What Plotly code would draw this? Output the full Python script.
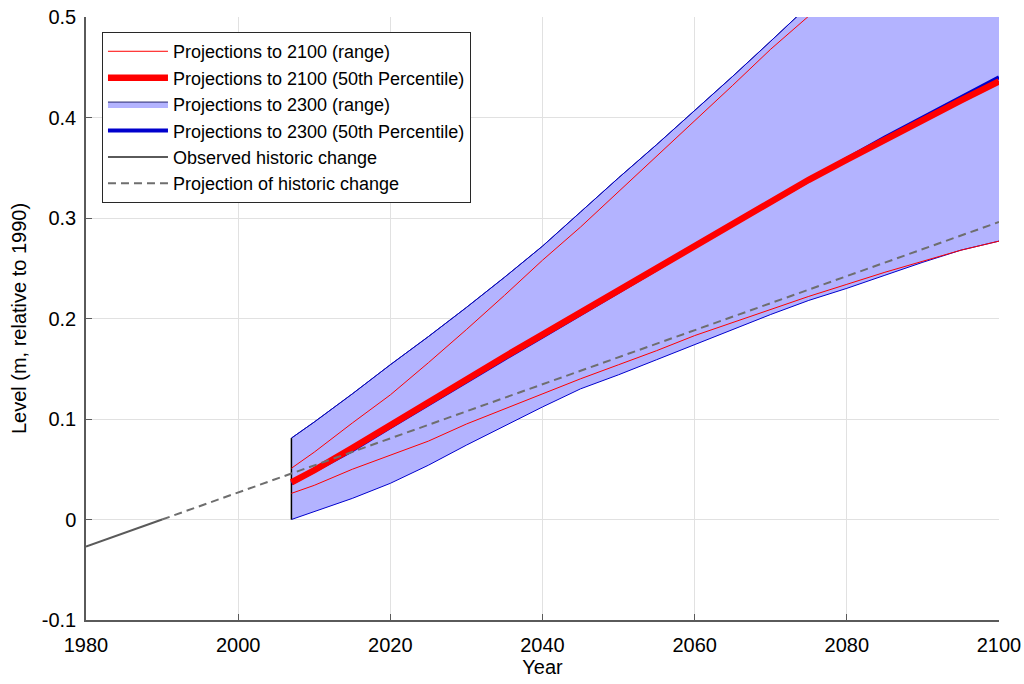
import plotly.graph_objects as go

# ---------------- data ----------------
proj_years = [2007, 2010, 2015, 2020, 2025, 2030, 2035, 2040, 2045, 2050,
              2055, 2060, 2065, 2070, 2075, 2080, 2085, 2090, 2095, 2100]

p2100_low = [0.026, 0.034, 0.050, 0.064, 0.078, 0.095, 0.110, 0.125, 0.140, 0.154,
             0.168, 0.183, 0.196, 0.209, 0.222, 0.234, 0.246, 0.257, 0.268, 0.277]
p2100_high = [0.051, 0.067, 0.096, 0.124, 0.156, 0.189, 0.223, 0.258, 0.291, 0.326,
              0.362, 0.397, 0.432, 0.468, 0.501, 0.537, 0.572, 0.608, 0.644, 0.680]
p2100_med = [0.037, 0.049, 0.071, 0.094, 0.117, 0.139, 0.162, 0.184, 0.206, 0.228,
             0.251, 0.273, 0.295, 0.316, 0.338, 0.358, 0.378, 0.398, 0.417, 0.436]

p2300_low = [0.000, 0.008, 0.021, 0.036, 0.054, 0.074, 0.093, 0.112, 0.130, 0.144,
             0.159, 0.174, 0.189, 0.204, 0.218, 0.230, 0.243, 0.256, 0.268, 0.277]
p2300_high = [0.081, 0.097, 0.125, 0.154, 0.182, 0.211, 0.241, 0.272, 0.306, 0.340,
              0.373, 0.407, 0.441, 0.476, 0.511, 0.546, 0.582, 0.618, 0.655, 0.692]
p2300_med = [0.036, 0.048, 0.069, 0.092, 0.115, 0.137, 0.160, 0.182, 0.204, 0.226,
             0.249, 0.272, 0.294, 0.316, 0.338, 0.359, 0.380, 0.400, 0.420, 0.440]

obs_years = [1980, 1990]
obs_level = [-0.027, 0.0]

hist_proj_years = [1990, 2100]
hist_proj_level = [0.0, 0.296]

x_ticks = [1980, 2000, 2020, 2040, 2060, 2080, 2100]
y_ticks = [-0.1, 0, 0.1, 0.2, 0.3, 0.4, 0.5]
y_ticktext = ["-0.1", "0", "0.1", "0.2", "0.3", "0.4", "0.5"]

names = ["Projections to 2100 (range)",
         "Projections to 2100 (50th Percentile)",
         "Projections to 2300 (range)",
         "Projections to 2300 (50th Percentile)",
         "Observed historic change",
         "Projection of historic change"]

# ---------------- styles ----------------
RED = "rgb(255,0,0)"
BLUE = "rgb(0,0,205)"
FILL = "rgb(179,179,255)"
GRAY = "rgb(90,90,90)"
DGRAY = "rgb(110,110,110)"
AXC = "rgb(90,90,90)"
GRIDC = "rgb(225,225,225)"

fig = go.Figure()

# 2300 range band
fig.add_trace(go.Scatter(x=proj_years, y=p2300_low, mode="lines",
                         line=dict(color=BLUE, width=1), showlegend=False,
                         hoverinfo="skip"))
fig.add_trace(go.Scatter(x=proj_years, y=p2300_high, mode="lines",
                         line=dict(color="rgb(40,40,110)", width=1), fill="tonexty",
                         fillcolor=FILL, name=names[2], legendrank=3))
fig.add_trace(go.Scatter(x=proj_years, y=p2300_high, mode="lines",
                         line=dict(color=BLUE, width=1), showlegend=False,
                         hoverinfo="skip"))
# left edge of band
fig.add_trace(go.Scatter(x=[proj_years[0], proj_years[0]],
                         y=[p2300_low[0], p2300_high[0]], mode="lines",
                         line=dict(color="black", width=1.5), showlegend=False,
                         hoverinfo="skip"))

# 2100 range lines
fig.add_trace(go.Scatter(x=proj_years, y=p2100_high, mode="lines",
                         line=dict(color=RED, width=1), name=names[0],
                         legendgroup="r", legendrank=1))
fig.add_trace(go.Scatter(x=proj_years, y=p2100_low, mode="lines",
                         line=dict(color=RED, width=1), showlegend=False,
                         legendgroup="r"))

# medians
fig.add_trace(go.Scatter(x=proj_years, y=p2300_med, mode="lines",
                         line=dict(color=BLUE, width=4), name=names[3],
                         legendrank=4))
fig.add_trace(go.Scatter(x=proj_years, y=p2100_med, mode="lines",
                         line=dict(color=RED, width=6.5), name=names[1],
                         legendrank=2))

# historic
fig.add_trace(go.Scatter(x=obs_years, y=obs_level, mode="lines",
                         line=dict(color=GRAY, width=2), name=names[4],
                         legendrank=5))
fig.add_trace(go.Scatter(x=hist_proj_years, y=hist_proj_level, mode="lines",
                         line=dict(color=DGRAY, width=2, dash="8px,5px"),
                         name=names[5], legendrank=6))

FONT = "Liberation Sans, Arial, sans-serif"

fig.update_layout(
    width=1024, height=684,
    margin=dict(l=86, r=25, t=17, b=64),
    paper_bgcolor="white", plot_bgcolor="white",
    font=dict(family=FONT, size=20, color="black"),
    legend=dict(x=0.0175, y=0.975, xanchor="left", yanchor="top",
                bgcolor="white", bordercolor="rgb(40,40,40)", borderwidth=1,
                font=dict(size=18, family=FONT), itemwidth=60,
                traceorder="normal", tracegroupgap=0),
    showlegend=True,
)

fig.update_xaxes(range=[1980, 2100], tickvals=x_ticks, automargin=False,
                 showgrid=True, gridcolor=GRIDC, gridwidth=1,
                 showline=True, linecolor=AXC, linewidth=1.5,
                 ticks="inside", ticklen=6, tickcolor=AXC,
                 zeroline=False, mirror=False, ticklabelstandoff=6,
                 title=dict(text="Year", font=dict(size=20), standoff=4),
                 tickfont=dict(size=20))
fig.update_yaxes(range=[-0.1, 0.5], tickvals=y_ticks, ticktext=y_ticktext,
                 automargin=False,
                 showgrid=True, gridcolor=GRIDC, gridwidth=1,
                 showline=True, linecolor=AXC, linewidth=1.5,
                 ticks="inside", ticklen=6, tickcolor=AXC,
                 zeroline=False, mirror=False, ticklabelstandoff=4,
                 title=dict(text="Level (m, relative to 1990)", font=dict(size=20),
                            standoff=10),
                 tickfont=dict(size=20))

# remove the default 8px page margin so the 1024x684 figure fills the window
fig.write_html("out.html",
               config={"displayModeBar": False},
               post_script="document.body.style.margin='0';"
                           "document.body.style.overflow='hidden';")
